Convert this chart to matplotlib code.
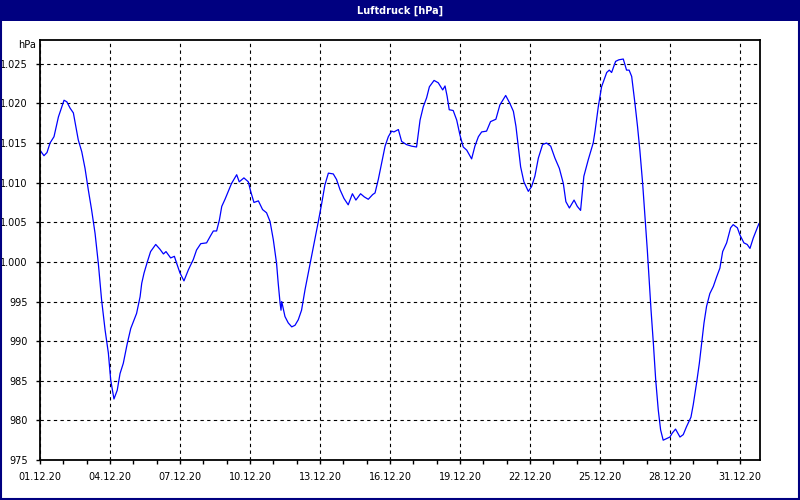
import matplotlib
matplotlib.use("Agg")
from matplotlib import pyplot as plt
import matplotlib.dates as mdates
from matplotlib.patches import Rectangle
from matplotlib.ticker import FuncFormatter
from datetime import datetime, timedelta

# Luftdruck Dezember 2020 (Tage seit 01.12.20 00:00, hPa)
days = [0.00, 0.17, 0.30, 0.43, 0.60, 0.79, 1.03, 1.15, 1.29, 1.43, 1.64, 1.79, 1.93,
        2.07, 2.21, 2.36, 2.50, 2.64, 2.79, 2.93, 3.03, 3.17, 3.31, 3.43, 3.57, 3.74,
        3.89, 4.14, 4.29, 4.36, 4.46, 4.60, 4.74, 4.96, 5.14, 5.29, 5.40, 5.60, 5.76,
        5.86, 6.00, 6.17, 6.36, 6.57, 6.71, 6.89, 7.14, 7.31, 7.43, 7.57, 7.69, 7.79,
        7.93, 8.07, 8.21, 8.43, 8.54, 8.74, 8.93, 9.03, 9.17, 9.36, 9.54, 9.71, 9.86,
        10.00, 10.14, 10.21, 10.29, 10.33, 10.36, 10.50, 10.64, 10.79, 10.93, 11.07,
        11.21, 11.36, 11.50, 11.64, 11.79, 11.93, 12.07, 12.21, 12.36, 12.57, 12.71,
        12.86, 13.03, 13.21, 13.39, 13.54, 13.74, 13.90, 14.07, 14.26, 14.36, 14.50,
        14.64, 14.79, 14.93, 15.07, 15.17, 15.36, 15.50, 15.71, 15.93, 16.14, 16.29,
        16.43, 16.57, 16.69, 16.89, 17.07, 17.26, 17.36, 17.45, 17.54, 17.71, 17.86,
        18.00, 18.14, 18.29, 18.50, 18.64, 18.79, 18.93, 19.14, 19.31, 19.54, 19.71,
        19.96, 20.14, 20.29, 20.40, 20.50, 20.60, 20.74, 20.93, 21.07, 21.21, 21.36,
        21.54, 21.71, 21.89, 22.07, 22.26, 22.43, 22.54, 22.69, 22.89, 23.03, 23.17,
        23.31, 23.50, 23.71, 23.79, 23.93, 24.07, 24.29, 24.40, 24.50, 24.67, 24.81,
        25.00, 25.14, 25.25, 25.36, 25.50, 25.61, 25.71, 25.83, 25.93, 26.03, 26.10,
        26.19, 26.29, 26.39, 26.50, 26.60, 26.71, 26.86, 27.00, 27.10, 27.24, 27.43,
        27.57, 27.71, 27.90, 28.00, 28.14, 28.26, 28.36, 28.46, 28.57, 28.71, 28.86,
        29.00, 29.14, 29.26, 29.43, 29.60, 29.71, 29.89, 30.00, 30.17, 30.31, 30.43,
        30.57, 30.81]
hpa = [1014.1, 1013.4, 1013.8, 1015.0, 1015.8, 1018.3, 1020.4, 1020.2, 1019.4, 1018.8,
       1015.4, 1013.9, 1011.8, 1009.1, 1006.6, 1003.6, 999.8, 995.2, 991.4, 988.5,
       985.1, 982.7, 983.8, 985.9, 987.2, 989.7, 991.6, 993.5, 995.6, 997.3, 998.6,
       1000.0, 1001.3, 1002.2, 1001.6, 1001.0, 1001.3, 1000.5, 1000.7, 999.8, 998.6,
       997.6, 999.0, 1000.3, 1001.5, 1002.3, 1002.4, 1003.3, 1003.9, 1003.9, 1005.3,
       1007.0, 1007.9, 1008.9, 1009.9, 1011.0, 1010.1, 1010.6, 1010.1, 1008.9, 1007.5,
       1007.7, 1006.6, 1006.2, 1005.1, 1002.8, 999.8, 997.3, 994.8, 993.9, 995.0,
       993.1, 992.3, 991.8, 992.0, 992.7, 993.9, 996.5, 998.6, 1000.7, 1003.0, 1005.1,
       1007.3, 1009.7, 1011.2, 1011.1, 1010.4, 1009.1, 1008.0, 1007.2, 1008.6, 1007.8,
       1008.6, 1008.2, 1007.9, 1008.5, 1008.7, 1010.4, 1012.4, 1014.6, 1015.8, 1016.5,
       1016.4, 1016.7, 1015.2, 1014.8, 1014.6, 1014.5, 1017.9, 1019.6, 1020.7, 1022.1,
       1022.9, 1022.6, 1021.7, 1022.2, 1020.9, 1019.2, 1019.1, 1017.9, 1016.0, 1014.5,
       1014.1, 1013.0, 1014.6, 1015.8, 1016.4, 1016.5, 1017.7, 1018.0, 1019.8, 1021.0,
       1020.0, 1019.0, 1017.1, 1014.6, 1012.0, 1010.1, 1008.9, 1009.5, 1010.8, 1013.1,
       1014.8, 1015.0, 1014.6, 1013.1, 1011.8, 1009.9, 1007.6, 1006.8, 1007.8, 1007.0,
       1006.5, 1010.8, 1012.9, 1015.0, 1016.5, 1019.6, 1022.1, 1023.9, 1024.2, 1023.9,
       1025.3, 1025.5, 1025.6, 1024.2, 1024.2, 1023.4, 1020.0, 1017.1, 1014.1, 1009.9,
       1005.7, 1001.5, 998.1, 993.9, 989.7, 985.1, 981.3, 978.8, 977.5, 977.7, 977.9,
       978.4, 978.9, 977.9, 978.2, 979.2, 980.4, 982.0, 984.7, 987.2, 989.7, 992.3,
       994.4, 996.0, 996.9, 998.1, 999.2, 1001.3, 1002.4, 1004.3, 1004.7, 1004.3,
       1003.4, 1002.4, 1002.2, 1001.7, 1003.0, 1004.8]
y_ticks = [975, 980, 985, 990, 995, 1000, 1005, 1010, 1015, 1020, 1025]

start = datetime(2020, 12, 1)
times = [start + timedelta(days=d) for d in days]

fig = plt.figure(figsize=(8, 5), dpi=100)
fig.patch.set_facecolor("white")

# Titelleiste und Rahmen
fig.patches.append(Rectangle((0, 0.958), 1, 0.042, transform=fig.transFigure,
                             facecolor="#000080", edgecolor="none"))
fig.patches.append(Rectangle((0.001, 0.002), 0.998, 0.996, transform=fig.transFigure,
                             facecolor="none", edgecolor="#000080", linewidth=1.5))
fig.text(0.5, 0.979, "Luftdruck [hPa]", color="white", fontsize=7, fontweight="bold",
         ha="center", va="center")

ax = fig.add_axes([0.05, 0.08, 0.90, 0.84])
ax.plot(times, hpa, color="#0000ff", linewidth=0.9)

ax.set_ylim(975, 1028)
ax.set_xlim(start, start + timedelta(days=30.86))
ax.set_yticks(y_ticks)
ax.yaxis.set_major_formatter(FuncFormatter(
    lambda v, p: f"{int(v):,}".replace(",", ".")))

ax.set_xticks([start + timedelta(days=3 * i) for i in range(11)])
ax.set_xticks([start + timedelta(days=i) for i in range(31)], minor=True)
ax.xaxis.set_major_formatter(mdates.DateFormatter("%d.%m.%y"))

ax.grid(True, which="major", color="black", linestyle=(0, (3, 3)), linewidth=0.8)
for s in ax.spines.values():
    s.set_linewidth(1.3)
    s.set_color("black")
ax.tick_params(axis="both", which="both", direction="out", length=3, width=1,
               labelsize=7, pad=6)
fig.text(0.045, 0.91, "hPa", fontsize=7, ha="right", va="center")

plt.savefig("out.png", dpi=100)
